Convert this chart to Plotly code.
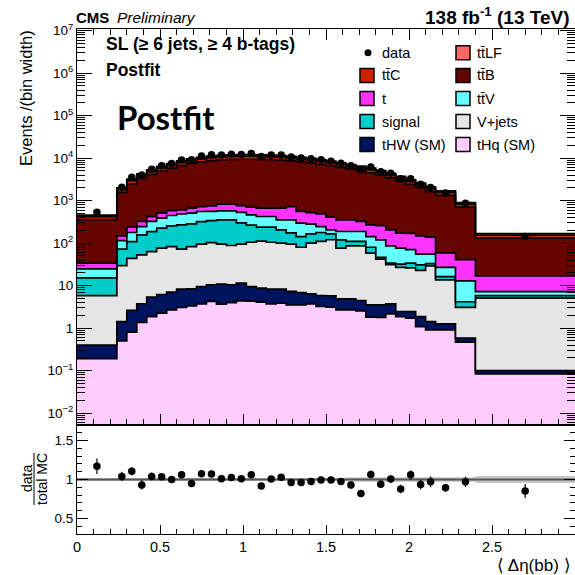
import numpy as np
import plotly.graph_objects as go

# ---------------- data ----------------
edges = [0.00, 0.24, 0.30, 0.36, 0.42, 0.48, 0.54, 0.60, 0.66, 0.72, 0.78, 0.84,
         0.90, 0.96, 1.02, 1.08, 1.14, 1.20, 1.26, 1.32, 1.38, 1.44, 1.50, 1.56,
         1.62, 1.68, 1.74, 1.80, 1.86, 1.92, 1.98, 2.04, 2.10, 2.16, 2.28, 2.40, 3.00]

tHq = [0.19, 0.50, 0.805, 1.36, 1.87, 2.25, 2.70, 3.06, 3.35, 3.73, 4.24, 3.67, 4.0, 4.4,
       4.3, 4.08, 3.73, 3.87, 3.53, 3.53, 3.73, 3.23, 3.11, 2.70, 2.70, 2.55, 1.81, 1.78,
       2.17, 1.87, 1.72, 1.09, 0.91, 0.91, 0.47, 0.084]
tHW = [0.21, 0.93, 1.8, 2.37, 3.5, 3.93, 4.3, 5.21, 5.05, 5.82, 6.26, 7.13, 6.5, 7.1,
       5.2, 4.62, 4.57, 4.43, 3.77, 3.37, 2.67, 2.62, 2.64, 2.2, 2.2, 1.92, 1.72, 1.75,
       1.56, 0.59, 0.73, 0.78, 0.52, 0.35, 0.11, 0.016]
vjets = [5.4, 28.3, 41.4, 49.3, 57.6, 69.8, 76, 63.7, 74.6, 85.5, 92.5, 84.2, 77.5, 83.5,
         95.5, 103.3, 96.7, 91.7, 87.7, 73.1, 93.6, 104.2, 114.3, 71.1, 81.1, 81.5, 54.5,
         38.5, 27.3, 24.5, 23.6, 21.1, 27.6, 12.4, 2.5, 5.0]
signal = [9.4, 42.3, 65, 104, 124, 149, 172, 197, 201, 227, 237, 258, 265, 205,
          160, 126, 133, 106, 80, 63, 65, 68, 45, 44, 24, 24, 22, 4, 3, 5, 8, 8, 4,
          2.7, 1.1, 0.75]
ttV = [9.6, 43, 69, 88, 137, 162, 192, 221, 224, 234, 220, 222, 222, 230,
       198, 186, 186, 147, 178, 152, 115, 67, 41, 68, 78, 78, 63, 74, 52, 44, 36, 24,
       22, 10.6, 8.8, 1.35]
t_single = [9.2, 34, 60, 79, 99, 121, 138, 118, 157, 170, 193, 247, 247, 230,
            240, 242, 242, 313, 374, 265, 245, 245, 204, 165, 165, 136, 126, 139, 120,
            96, 100, 93, 83, 32, 28, 9.8]
ttB = [323, 1411, 2258, 3030, 3711, 4484, 5265, 6100, 6901, 7464, 7983, 8304, 8538,
       8678, 8735, 8694, 8538, 8304, 7931, 7630, 7197, 6686, 6220, 5731, 5185, 4746,
       4255, 3719, 3226, 2753, 2248, 1880, 1500, 1267, 661, 114]
ttC = [64, 280, 448, 602, 742, 896, 1050, 1204, 1358, 1470, 1568, 1638, 1680, 1694,
       1694, 1680, 1652, 1610, 1554, 1470, 1386, 1288, 1190, 1092, 994, 910, 812, 714,
       616, 525, 434, 364, 294, 238, 126, 24]
ttLF = [37, 160, 256, 344, 424, 512, 600, 688, 776, 840, 896, 936, 960, 968, 968, 960,
        944, 920, 888, 840, 792, 736, 680, 624, 568, 520, 464, 408, 352, 300, 248, 208,
        168, 136, 72, 13]

data = [536, 2080, 3536, 3999, 5512, 6624, 7500, 9116, 9215, 11288, 11984, 11817,
        12300, 12221, 12826, 10980, 11859, 11845, 10656, 10080, 9653, 9154, 8458,
        7605, 6603, 5330, 6177, 4794, 4422, 3289, 3286, 2434, 2037, 1520, 873, 143]
ratio_err = [0.10, 0.06, 0.05, 0.06, 0.05, 0.045, 0.04, 0.04, 0.04, 0.04, 0.04, 0.035,
             0.035, 0.035, 0.035, 0.035, 0.035, 0.035, 0.035, 0.035, 0.04, 0.04, 0.04,
             0.045, 0.045, 0.045, 0.05, 0.05, 0.05, 0.055, 0.06, 0.06, 0.07, 0.05,
             0.065, 0.09]
mc_unc = [0.02] * 24 + [0.03] * 11 + [0.045]

processes = [  # bottom -> top of the stack
    ("tHq (SM)", tHq, "#FFCCFF"),
    ("tHW (SM)", tHW, "#00135F"),
    ("V+jets", vjets, "#E5E5E5"),
    ("signal", signal, "#00CCCC"),
    ("tt\u0304V", ttV, "#66FFFF"),
    ("t", t_single, "#FF33FF"),
    ("tt\u0304B", ttB, "#660500"),
    ("tt\u0304C", ttC, "#CC2200"),
    ("tt\u0304LF", ttLF, "#FF6666"),
]

y_tickvals = [1e-2, 1e-1, 1, 10, 1e2, 1e3, 1e4, 1e5, 1e6, 1e7]
y_ticktext = ["10<sup>\u22122</sup>", "10<sup>\u22121</sup>", "1", "10", "10<sup>2</sup>",
              "10<sup>3</sup>", "10<sup>4</sup>", "10<sup>5</sup>", "10<sup>6</sup>", "10<sup>7</sup>"]
x_tickvals = [0, 0.5, 1, 1.5, 2, 2.5, 3]
x_ticktext = ["0", "0.5", "1", "1.5", "2", "2.5", "3"]

# ---------------- figure ----------------
edges_a = np.array(edges)
centers = 0.5 * (edges_a[1:] + edges_a[:-1])
stack = np.cumsum(np.array([p[1] for p in processes], dtype=float), axis=0)
total = stack[-1]
data_a = np.array(data, dtype=float)
ratio = data_a / total
rerr = np.array(ratio_err)
err_main = data_a * rerr / ratio


def stepy(v):
    v = list(v)
    return v + [v[-1]]


fig = go.Figure()
fig.add_trace(go.Scatter(x=edges, y=[1e-5] * len(edges), mode="lines",
                         line=dict(width=0, shape="hv"), showlegend=False,
                         hoverinfo="skip", xaxis="x", yaxis="y"))
for i, (name, vals, col) in enumerate(processes):
    fig.add_trace(go.Scatter(x=edges, y=stepy(stack[i]), mode="lines", name=name,
                             line=dict(color="black", width=1.7, shape="hv"),
                             fill="tonexty", fillcolor=col, showlegend=False,
                             xaxis="x", yaxis="y"))
fig.add_trace(go.Scatter(x=centers, y=data, mode="markers", name="data",
                         marker=dict(color="black", size=7.5),
                         error_y=dict(type="data", array=err_main, width=0,
                                      thickness=1.2, color="black"),
                         showlegend=False, xaxis="x", yaxis="y"))

# ratio panel
unc = np.array(mc_unc)
fig.add_trace(go.Scatter(x=edges, y=stepy(1 - unc), mode="lines",
                         line=dict(width=0, shape="hv"), showlegend=False,
                         hoverinfo="skip", xaxis="x2", yaxis="y2"))
fig.add_trace(go.Scatter(x=edges, y=stepy(1 + unc), mode="lines",
                         line=dict(width=0, shape="hv"), fill="tonexty",
                         fillcolor="rgba(150,150,150,0.55)", showlegend=False,
                         hoverinfo="skip", xaxis="x2", yaxis="y2"))
fig.add_trace(go.Scatter(x=[edges[0], edges[-1]], y=[1, 1], mode="lines",
                         line=dict(color="#555555", width=2), showlegend=False,
                         xaxis="x2", yaxis="y2"))
fig.add_trace(go.Scatter(x=centers, y=ratio, mode="markers",
                         marker=dict(color="black", size=7.5),
                         error_y=dict(type="data", array=rerr, width=0,
                                      thickness=1.2, color="black"),
                         showlegend=False, xaxis="x2", yaxis="y2"))

W, H = 575, 575
L, R, T, B = 77, 0, 29, 41
PW, PH = W - L - R, H - T - B
split = (534 - 425) / PH


def px(xp, yp):
    return (xp - L) / PW, (H - B - yp) / PH


minor_x = [round(0.1 * k, 1) for k in range(31) if k % 5 != 0]
minor_y = [k * 10.0 ** n for n in range(-3, 8) for k in range(2, 10)]
minor_r = [round(0.1 * k, 1) for k in range(3, 18) if k % 5 != 0]

axis_common = dict(showgrid=False, zeroline=False, showline=True, linecolor="black",
                   linewidth=1, ticks="inside", tickcolor="black", tickwidth=1,
                   automargin=False)

fig.update_layout(
    width=W, height=H, margin=dict(l=L, r=R, t=T, b=B),
    paper_bgcolor="white", plot_bgcolor="white",
    font=dict(family="Liberation Sans", color="black", size=13),
    showlegend=False,
    xaxis=dict(domain=[0, 1], anchor="y", range=[0, 3], tickmode="array",
               tickvals=x_tickvals, showticklabels=False, ticklen=11, mirror="ticks",
               minor=dict(tickmode="array", tickvals=minor_x, ticks="inside",
                          ticklen=6, tickcolor="black"),
               **axis_common),
    yaxis=dict(domain=[split, 1], anchor="x", type="log", range=[-2.28, 7.04],
               tickmode="array", tickvals=y_tickvals, ticktext=y_ticktext,
               ticklen=15, mirror="ticks", tickfont=dict(size=13.5),
               minor=dict(tickmode="array", tickvals=minor_y, ticks="inside",
                          ticklen=8, tickcolor="black"),
               **axis_common),
    xaxis2=dict(domain=[0, 1], anchor="y2", range=[0, 3], tickmode="array",
                tickvals=x_tickvals, ticktext=x_ticktext, ticklen=9, mirror=True,
                tickfont=dict(size=14.5),
                minor=dict(tickmode="array", tickvals=minor_x, ticks="inside",
                           ticklen=5, tickcolor="black"),
                **axis_common),
    yaxis2=dict(domain=[0, split], anchor="x2", range=[0.3, 1.7], tickmode="array",
                tickvals=[0.5, 1, 1.5], ticktext=["0.5", "1", "1.5"], ticklen=11,
                mirror="ticks", tickfont=dict(size=13.5),
                minor=dict(tickmode="array", tickvals=minor_r, ticks="inside",
                           ticklen=5, tickcolor="black"),
                **axis_common),
)

ann = []
shapes = []


def text(xp, yp, s, size=14, xanchor="left", yanchor="middle", family="Liberation Sans",
         angle=0):
    x, y = px(xp, yp)
    ann.append(dict(x=x, y=y, xref="paper", yref="paper", text=s, showarrow=False,
                    xanchor=xanchor, yanchor=yanchor, textangle=angle,
                    font=dict(size=size, family=family, color="black")))


text(74, 18, "<b>CMS</b>", size=15)
text(115, 18, "<i>Preliminary</i>", size=15.5)
text(572, 16, "<b>138 fb<sup>-1</sup> (13 TeV)</b>", size=19, xanchor="right")
text(104, 44, "<b>SL (\u2265 6 jets, \u2265 4 b-tags)</b>", size=17.5)
text(104, 70, "<b>Postfit</b>", size=17.5)
text(115, 117, "<b>Postfit</b>", size=33, family="Lato")
text(26, 28, "Events /(bin width)", size=16.5, xanchor="center", yanchor="top", angle=-90)
text(27, 479, "data", size=14, xanchor="center", angle=-90)
text(42, 479, "total MC", size=14, xanchor="center", angle=-90)
text(573, 565, "\u27E8 \u0394\u03B7(bb) \u27E9", size=17, xanchor="right")

x0, y0 = px(34, 453)
x1, y1 = px(34, 505)
shapes.append(dict(type="line", xref="paper", yref="paper", x0=x0, x1=x1, y0=y0, y1=y1,
                   line=dict(color="black", width=1)))

# legend (manual, two columns)
legend_rows = [52.7, 75.5, 98.5, 121.5, 144.5]
by_name = {p[0]: p[2] for p in processes}
left_col = [None, "tt\u0304C", "t", "signal", "tHW (SM)"]
right_col = ["tt\u0304LF", "tt\u0304B", "tt\u0304V", "V+jets", "tHq (SM)"]


def legbox(xl, yc, col):
    xa, ya = px(xl, yc - 7)
    xb, yb = px(xl + 14, yc + 7)
    shapes.append(dict(type="rect", xref="paper", yref="paper", x0=xa, x1=xb, y0=ya,
                       y1=yb, fillcolor=col, line=dict(color="black", width=1.5)))


for yc, nl, nr in zip(legend_rows, left_col, right_col):
    if nl is None:
        xm, ym = px(368, yc)
        shapes.append(dict(type="circle", xref="paper", yref="paper",
                           x0=xm - 3.5 / PW, x1=xm + 3.5 / PW, y0=ym - 3.5 / PH,
                           y1=ym + 3.5 / PH, fillcolor="black", line=dict(width=0)))
        text(380, yc, "data", size=14.5)
    else:
        legbox(360, yc, by_name[nl])
        text(380, yc, nl, size=14.5)
    legbox(456, yc, by_name[nr])
    text(475, yc, nr, size=14.5)

fig.update_layout(annotations=ann, shapes=shapes)
fig.write_html("out.html")
